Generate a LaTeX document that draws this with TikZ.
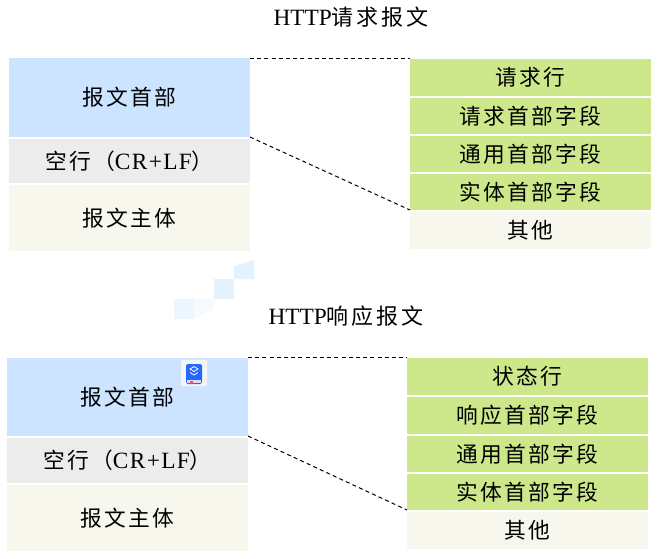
\documentclass[tikz,border=0pt]{standalone}
\usepackage{fontspec}
\setmainfont{Liberation Serif}
\newfontfamily\cjk[LetterSpace=10]{Noto Sans CJK SC}
\newfontfamily\cjkt[LetterSpace=13]{Noto Sans CJK SC}
\newfontfamily\latc[LetterSpace=6]{Liberation Serif}
\newcommand{\pxbox}[7]{% name,x0,y0,x1,y1,style,text
  \node[cell,#6,minimum width={(#4-#2)*0.75pt},minimum height={(#5-#3)*0.75pt}] (#1) at ({(#2+#4)/2},{(#3+#5)/2}) {\raisebox{-0.5pt}{#7}};}
\newcommand{\crlf}{{\fontsize{17.5pt}{18pt}\selectfont\latc CR+LF}}
\definecolor{headblue}{HTML}{CCE4FF}
\definecolor{blankgrey}{HTML}{ECECEC}
\definecolor{bodycream}{HTML}{F7F7EE}
\definecolor{rowgreen}{HTML}{CDE88A}
\tikzset{
  x=0.75pt,y=-0.75pt,
  cell/.style={inner sep=0pt,outer sep=0pt,font=\fontsize{16.3pt}{18pt}\selectfont\cjk,text=black},
  head/.style={fill=headblue},
  blank/.style={fill=blankgrey},
  body/.style={fill=bodycream},
  row/.style={fill=rowgreen},
  title/.style={inner sep=0pt,font=\fontsize{17.5pt}{18pt}\selectfont,text=black},
  link/.style={draw=black,dash pattern=on 3pt off 2.4pt,line width=0.75pt},
}
\begin{document}
\begin{tikzpicture}
\useasboundingbox (0,0) rectangle (668,558);
% faint watermark
\fill[fill=blue!45!cyan!8] (174,299) rectangle (194,319);
\fill[fill=blue!45!cyan!4] (194,299) -- (214,299) -- (214,309) -- (194,319) -- cycle;
\fill[fill=blue!45!cyan!11] (214,279) rectangle (234,299);
\fill[fill=blue!45!cyan!11] (234,266) -- (254,260) -- (254,279) -- (234,279) -- cycle;
% titles
\node[title] (t1) at (351,17) {HTTP{\fontsize{16.5pt}{18pt}\selectfont\cjkt 请求报文}};
\node[title] (t2) at (346,316) {HTTP{\fontsize{16.5pt}{18pt}\selectfont\cjkt 响应报文}};
% upper left
\pxbox{a1}{9}{58}{250}{137}{head}{报文首部}
\pxbox{a2}{9}{139}{250}{183}{blank}{空行（\crlf）}
\pxbox{a3}{9}{185}{250}{251}{body}{报文主体}
% upper right
\pxbox{b1}{410}{59}{651}{96}{row}{请求行}
\pxbox{b2}{410}{98}{651}{134}{row}{请求首部字段}
\pxbox{b3}{410}{136}{651}{172}{row}{通用首部字段}
\pxbox{b4}{410}{174}{651}{210}{row}{实体首部字段}
\pxbox{b5}{410}{212}{651}{249}{body}{其他}
% lower left
\pxbox{c1}{7}{358}{248}{436}{head}{报文首部}
\pxbox{c2}{7}{438}{248}{483}{blank}{空行（\crlf）}
\pxbox{c3}{7}{485}{248}{551}{body}{报文主体}
% lower right
\pxbox{d1}{407}{358}{648}{395}{row}{状态行}
\pxbox{d2}{407}{397}{648}{434}{row}{响应首部字段}
\pxbox{d3}{407}{436}{648}{472}{row}{通用首部字段}
\pxbox{d4}{407}{474}{648}{510}{row}{实体首部字段}
\pxbox{d5}{407}{512}{648}{549}{body}{其他}
% connectors
\draw[link] (a1.north east) -- (a1.north east -| b1.west);
\draw[link] (a1.south east) -- (b4.south west);
\draw[link] ([yshift=0.75pt]c1.north east) -- ([yshift=0.75pt]c1.north east -| d1.west);
\draw[link] (c1.south east) -- (d4.south west);
% small app icon
\fill[white!96!black,rounded corners=1pt] (181,360) rectangle (207,386);
\fill[blue!70!cyan!85!white,rounded corners=1.2pt] (186,364) rectangle (202,384);
\fill[white!85!blue] (187,380) rectangle (201,383);
\fill[red!70!white] (190,381) rectangle (193,383.5);
\draw[white,line width=0.6pt] (190,369) -- (194,371.5) -- (198,369) -- (194,366.5) -- cycle;
\draw[white,line width=0.6pt] (190,372.5) -- (194,375) -- (198,372.5);
\end{tikzpicture}
\end{document}
